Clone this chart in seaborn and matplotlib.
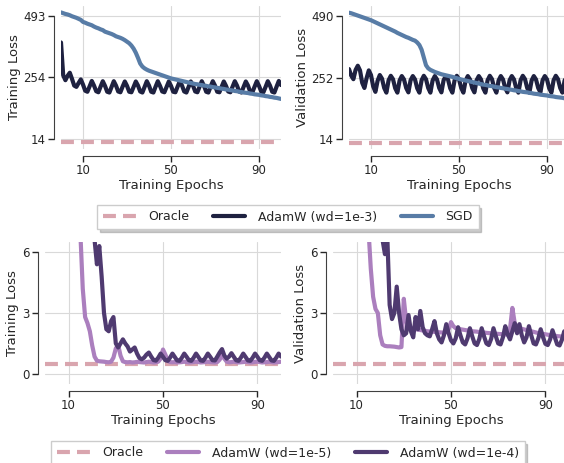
import numpy as np
import pandas as pd
import matplotlib
matplotlib.use("Agg")
import matplotlib.pyplot as plt
import seaborn as sns

# ---------------- data ----------------
epochs = list(range(0, 101))
oracle = 0.5

adam_1e3_train = [
    390, 262, 243, 260, 272, 248, 222, 217, 232, 246,
    226, 202, 198, 219, 240, 222, 200, 196, 218, 239,
    221, 198, 195, 217, 239, 222, 199, 196, 218, 238,
    221, 198, 196, 217, 238, 222, 199, 195, 217, 239,
    222, 198, 195, 218, 239, 221, 199, 196, 217, 238,
    221, 198, 196, 218, 239, 222, 199, 195, 217, 238,
    222, 199, 196, 218, 239, 221, 198, 195, 218, 239,
    222, 198, 196, 217, 238, 221, 199, 196, 218, 239,
    222, 199, 195, 217, 238, 222, 198, 196, 218, 239,
    221, 199, 196, 217, 239, 222, 198, 195, 218, 240,
    224]
sgd_train = [
    507, 504, 501, 499, 496, 492, 489, 486, 482, 478,
    470, 467, 463, 460, 457, 452, 448, 445, 441, 438,
    432, 429, 426, 423, 419, 414, 411, 408, 404, 399,
    393, 387, 378, 366, 350, 330, 308, 296, 289, 284,
    280, 277, 274, 271, 268, 265, 262, 259, 256, 253,
    250, 248, 246, 244, 242, 240, 238, 236, 234, 232,
    230, 228, 227, 225, 224, 222, 221, 219, 218, 216,
    215, 213, 212, 210, 209, 207, 206, 204, 203, 201,
    200, 198, 197, 195, 194, 193, 191, 190, 188, 187,
    186, 184, 183, 181, 180, 178, 177, 175, 174, 172,
    170]
adam_1e3_val = [
    285, 260, 246, 282, 298, 280, 232, 212, 250, 280,
    262, 218, 197, 240, 262, 248, 212, 194, 242, 259,
    246, 211, 194, 241, 258, 245, 212, 195, 242, 258,
    245, 211, 194, 242, 259, 246, 212, 194, 241, 258,
    245, 212, 195, 242, 258, 245, 211, 194, 242, 259,
    246, 212, 194, 241, 258, 245, 212, 195, 242, 258,
    245, 211, 194, 242, 259, 246, 212, 194, 241, 258,
    245, 212, 195, 242, 258, 245, 211, 194, 242, 259,
    246, 212, 194, 241, 258, 245, 212, 195, 242, 258,
    245, 211, 194, 242, 259, 246, 212, 194, 241, 258,
    246]
sgd_val = [
    503, 501, 498, 495, 492, 489, 486, 483, 480, 477,
    474, 470, 466, 462, 458, 454, 450, 446, 442, 438,
    434, 430, 425, 421, 417, 413, 409, 406, 402, 398,
    395, 388, 378, 360, 330, 300, 288, 282, 278, 274,
    271, 268, 265, 263, 261, 259, 257, 255, 252, 250,
    247, 245, 243, 241, 239, 237, 235, 233, 231, 229,
    227, 225, 224, 222, 220, 219, 217, 215, 214, 212,
    211, 209, 208, 206, 205, 203, 202, 200, 199, 197,
    196, 195, 193, 192, 190, 189, 188, 186, 185, 184,
    183, 181, 180, 179, 177, 176, 175, 174, 172, 171,
    170]

adam_1e5_train = [
    480, 420, 360, 300, 250, 200, 160, 120, 90, 65,
    45, 30, 20, 13, 9.0, 6.9, 4.2, 2.8, 2.5, 2.1,
    1.4, 0.85, 0.65, 0.62, 0.61, 0.60, 0.58, 0.57, 0.60, 0.80,
    1.25, 1.42, 0.90, 0.62, 0.58, 0.57, 0.58, 0.56, 0.57, 0.59,
    0.58, 0.57, 0.56, 0.58, 0.60, 0.58, 0.56, 0.57, 0.60, 0.75,
    1.20, 0.95, 0.65, 0.58, 0.57, 0.58, 0.56, 0.57, 0.58, 0.60,
    0.58, 0.56, 0.57, 0.58, 0.60, 0.58, 0.56, 0.57, 0.58, 0.60,
    0.58, 0.57, 0.56, 0.58, 0.70, 0.92, 0.75, 0.60, 0.57, 0.58,
    0.60, 0.58, 0.56, 0.57, 0.58, 0.60, 0.58, 0.56, 0.57, 0.59,
    0.60, 0.58, 0.56, 0.57, 0.58, 0.60, 0.58, 0.56, 0.57, 0.58,
    0.60]
adam_1e4_train = [
    490, 450, 410, 370, 330, 290, 250, 210, 175, 140,
    110, 85, 65, 50, 38, 28, 21, 16, 12, 9.5,
    8.0, 6.6, 5.4, 6.3, 4.8, 3.0, 2.2, 2.1, 2.6, 2.8,
    1.5, 1.3, 1.5, 1.7, 1.5, 1.35, 1.1, 1.2, 1.3, 1.0,
    0.78, 0.72, 0.80, 0.95, 1.05, 0.85, 0.68, 0.65, 0.80, 1.00,
    0.84, 0.67, 0.64, 0.80, 1.00, 0.83, 0.66, 0.64, 0.80, 1.00,
    0.84, 0.67, 0.64, 0.80, 1.00, 0.83, 0.66, 0.64, 0.80, 1.00,
    0.84, 0.67, 0.66, 0.85, 1.05, 1.22, 0.90, 0.75, 0.85, 1.02,
    0.84, 0.67, 0.64, 0.80, 1.00, 0.83, 0.66, 0.64, 0.80, 1.00,
    0.84, 0.67, 0.64, 0.80, 1.00, 0.83, 0.66, 0.64, 0.80, 1.00,
    0.85]
adam_1e5_val = [
    490, 430, 370, 310, 255, 205, 165, 125, 95, 70,
    50, 33, 22, 14, 9.5, 7.2, 5.2, 3.8, 3.2, 3.0,
    1.9, 1.45, 1.38, 1.36, 1.36, 1.35, 1.34, 1.32, 1.30, 1.32,
    3.70, 2.60, 2.30, 2.25, 2.22, 2.20, 2.18, 2.16, 2.14, 2.12,
    2.10, 2.09, 2.08, 2.07, 2.06, 2.05, 2.04, 2.03, 2.06, 2.20,
    2.55, 2.35, 2.25, 2.22, 2.20, 2.18, 2.16, 2.14, 2.12, 2.10,
    2.09, 2.08, 2.06, 2.05, 2.04, 2.02, 2.01, 2.00, 1.99, 1.98,
    1.97, 1.96, 1.95, 1.94, 1.95, 2.20, 3.25, 2.50, 2.30, 2.25,
    2.22, 2.19, 2.16, 2.13, 2.10, 2.07, 2.04, 2.01, 1.99, 1.97,
    1.95, 1.93, 1.91, 1.90, 1.88, 1.86, 1.85, 1.84, 1.82, 1.81,
    1.80]
adam_1e4_val = [
    490, 450, 410, 370, 330, 290, 250, 210, 175, 140,
    110, 85, 65, 50, 38, 28, 21, 16, 12, 10,
    9.0, 6.6, 5.9, 6.8, 3.4, 2.7, 3.0, 4.3, 3.0, 2.2,
    1.9, 2.0, 2.9, 2.1, 1.8, 2.8, 2.2, 3.1, 2.3, 2.0,
    1.9, 1.85, 2.2, 2.6, 2.0, 1.7, 1.55, 1.9, 2.45, 2.0,
    1.65, 1.5, 1.75, 2.3, 1.9, 1.55, 1.45, 1.75, 2.25, 1.85,
    1.5, 1.42, 1.72, 2.25, 1.85, 1.5, 1.42, 1.72, 2.25, 1.85,
    1.5, 1.45, 1.8, 2.35, 1.95, 1.7, 2.1, 2.5, 2.0, 2.45,
    1.9, 1.55, 1.8, 2.35, 1.9, 1.5, 1.45, 1.75, 2.2, 1.8,
    1.48, 1.42, 1.7, 2.15, 1.8, 1.45, 1.4, 1.68, 2.1, 1.75,
    1.5]

x_ticks = [10, 50, 90]
top_left_yticks = [14, 254, 493]
top_right_yticks = [14, 252, 490]
bottom_yticks = [0, 3, 6]

# ---------------- style ----------------
sns.set_style("whitegrid", {"xtick.bottom": True, "ytick.left": True,
                            "axes.edgecolor": ".25", "grid.color": ".85"})
plt.rcParams["font.family"] = ["DejaVu Sans"]

C_ORACLE = "#d9a5ae"
C_ADAM3 = "#1e2140"
C_SGD = "#587ca6"
C_ADAM5 = "#ab7fbe"
C_ADAM4 = "#4f3a70"
LW = 3.0
DASH = (0, (3.1, 1.7))
LABEL_FS = 9.5
TICK_FS = 8.5
LEG_FS = 9.0

fig = plt.figure(figsize=(5.64, 4.63), dpi=100)
W, H = 564, 463

def add_ax(l, r, t, b):
    return fig.add_axes([l / W, 1 - b / H, (r - l) / W, (b - t) / H])

ax_tl = add_ax(61, 281, 6, 149)
ax_tr = add_ax(349, 569, 6, 149)
ax_bl = add_ax(45, 281, 242, 384)
ax_br = add_ax(333, 569, 242, 384)

def draw(ax, series, ylabel, yticks, ylim):
    ax.axhline(oracle, color=C_ORACLE, lw=LW, ls=DASH, label="Oracle")
    for vals, col, lab in series:
        sns.lineplot(x=epochs, y=vals, ax=ax, color=col, lw=LW, label=lab)
    ax.set_xlim(0, 100)
    ax.set_ylim(*ylim)
    ax.set_xticks(x_ticks)
    ax.set_yticks(yticks)
    ax.set_xlabel("Training Epochs", fontsize=LABEL_FS, color=".15", labelpad=1)
    ax.set_ylabel(ylabel, fontsize=LABEL_FS, color=".15", labelpad=2)
    ax.tick_params(labelsize=TICK_FS, colors=".15", length=4, width=1, pad=2)
    ax.get_legend().remove()
    sns.despine(ax=ax, offset=5, trim=True)

draw(ax_tl, [(adam_1e3_train, C_ADAM3, "AdamW (wd=1e-3)"), (sgd_train, C_SGD, "SGD")],
     "Training Loss", top_left_yticks, (-25, 532))
draw(ax_tr, [(adam_1e3_val, C_ADAM3, "AdamW (wd=1e-3)"), (sgd_val, C_SGD, "SGD")],
     "Validation Loss", top_right_yticks, (-24, 529))
draw(ax_bl, [(adam_1e5_train, C_ADAM5, "AdamW (wd=1e-5)"), (adam_1e4_train, C_ADAM4, "AdamW (wd=1e-4)")],
     "Training Loss", bottom_yticks, (-0.5, 6.5))
draw(ax_br, [(adam_1e5_val, C_ADAM5, "AdamW (wd=1e-5)"), (adam_1e4_val, C_ADAM4, "AdamW (wd=1e-4)")],
     "Validation Loss", bottom_yticks, (-0.5, 6.5))

for ax, yc in [(ax_tl, 217), (ax_bl, 453)]:
    h, l = ax.get_legend_handles_labels()
    leg = fig.legend(h, l, loc="center", bbox_to_anchor=(288 / W, 1 - yc / H),
                     ncol=3, fontsize=LEG_FS, frameon=True, fancybox=False,
                     shadow={"color": "0.55", "alpha": 0.45},
                     handlelength=2.6, handletextpad=1.0,
                     columnspacing=1.9, borderpad=0.45)
    leg.get_frame().set_edgecolor(".8")
    leg.get_frame().set_linewidth(1.0)
    for t in leg.get_texts():
        t.set_color(".15")

fig.savefig("out.png", dpi=100)
